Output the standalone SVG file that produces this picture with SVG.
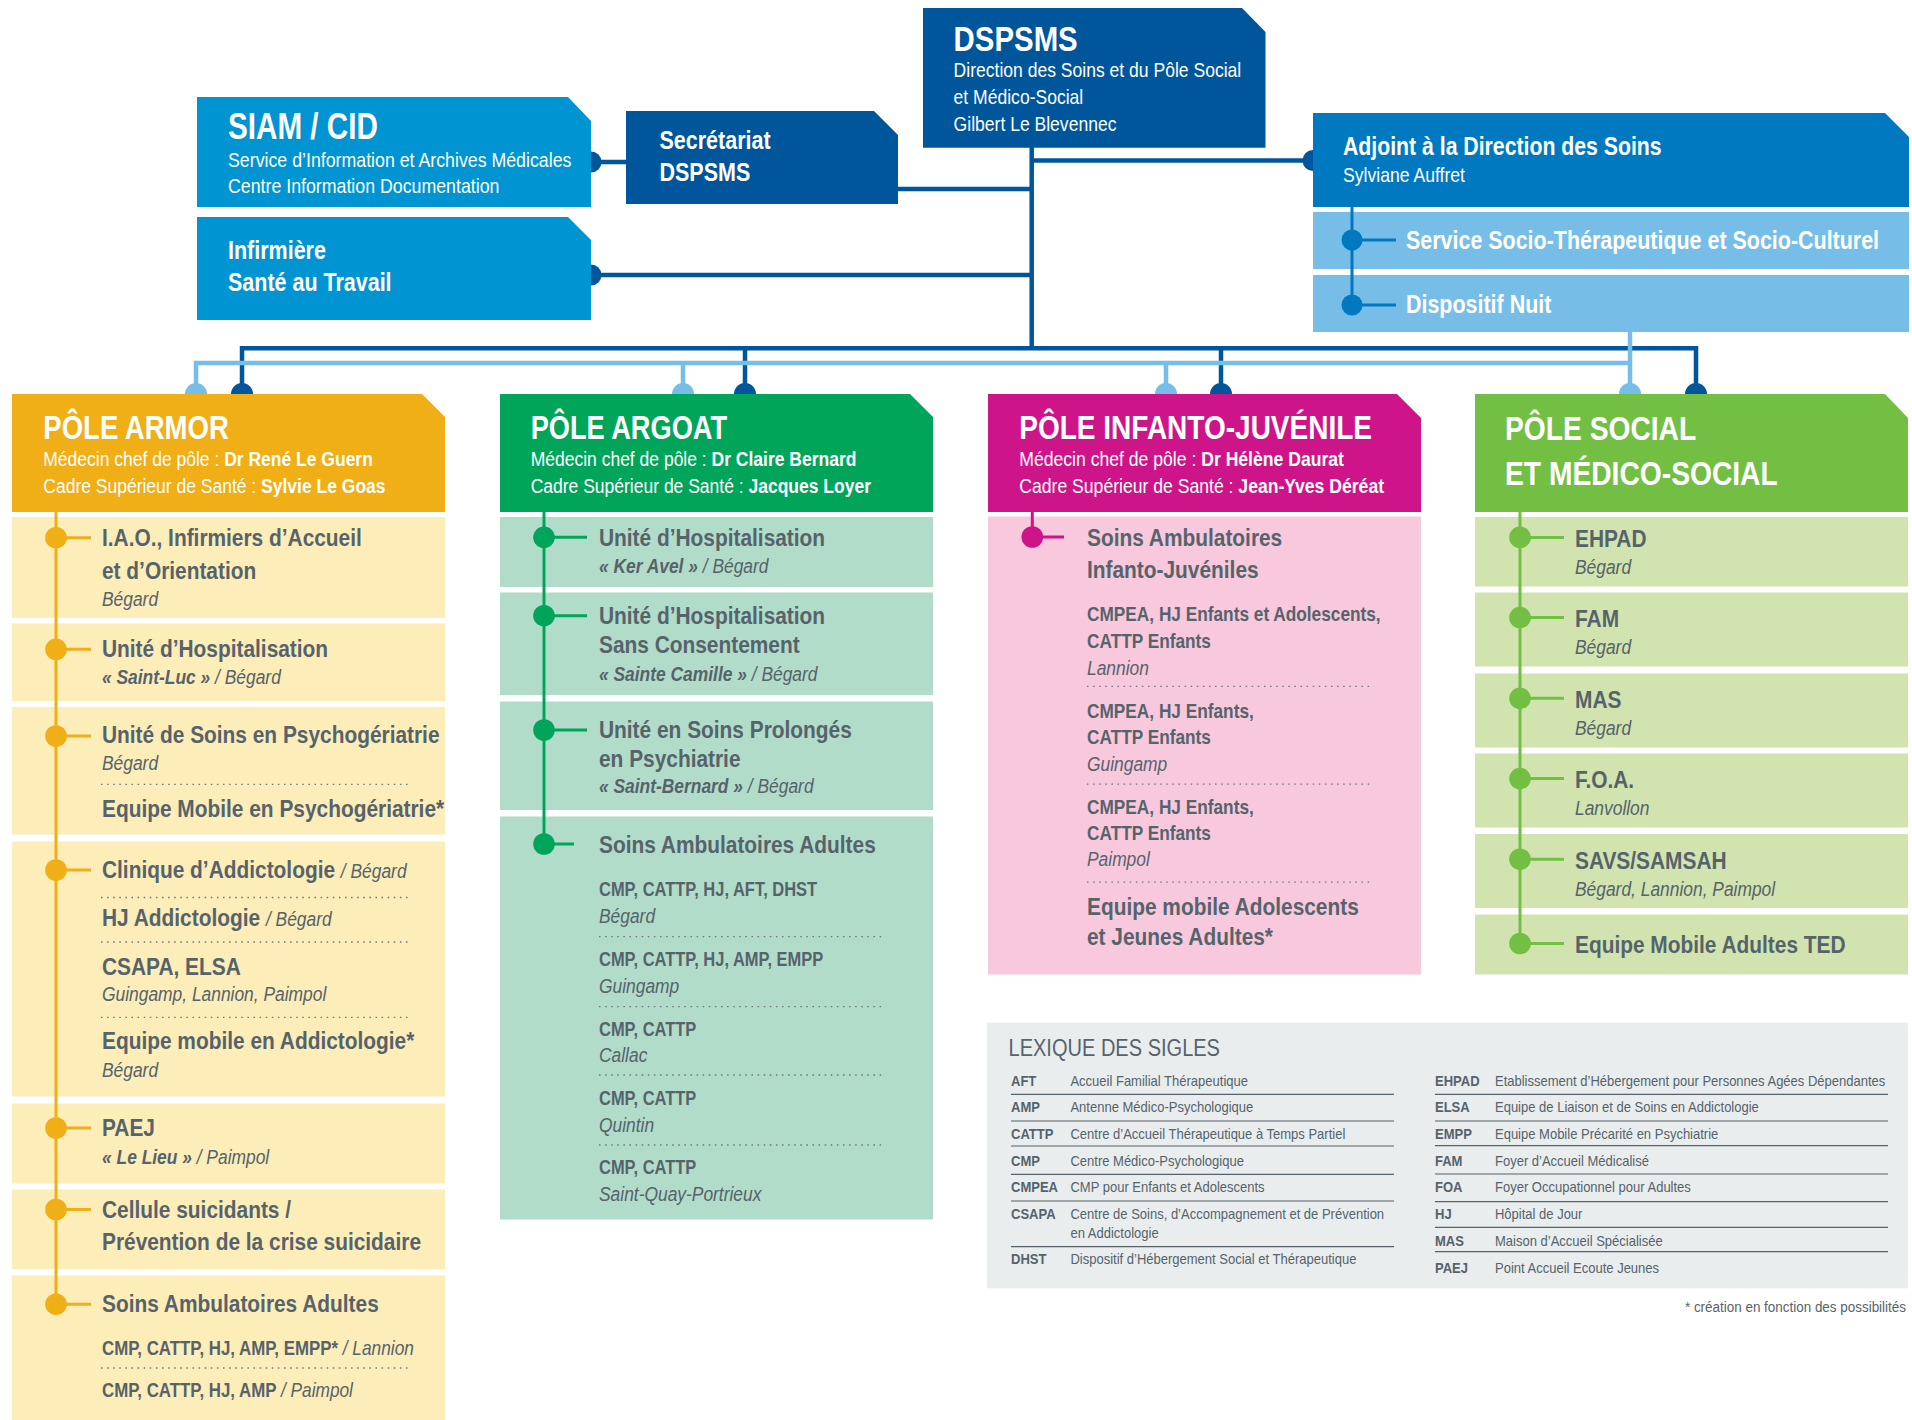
<svg xmlns="http://www.w3.org/2000/svg" width="1912" height="1420" viewBox="0 0 1912 1420">
<style>
text{font-family:'Liberation Sans',Arial,sans-serif}
.b{font-weight:700}
.i{font-style:italic}
.r{font-weight:400}
.w{fill:#fff}
.t{fill:#56636b}
.h1{font-size:34px;font-weight:700}
.h2{font-size:20px}
.h3{font-size:25px;font-weight:700}
.m{font-size:24px;font-weight:700}
.s{font-size:20px;font-style:italic;font-weight:400}
.c{font-size:19.5px;font-weight:700}
.sep{stroke:#6b777e;stroke-width:1.3;stroke-dasharray:1.5 4.6;fill:none}
.lx{font-size:14px;fill:#56636b}
.lxb{font-size:14px;fill:#56636b;font-weight:700}
.ls{stroke:#56636b;stroke-width:1.2}
.dk{stroke:#00569b;stroke-width:4.5;fill:none}
.lt{stroke:#76bde8;stroke-width:4.5;fill:none}
</style>

<g id="connectors">
  <path class="dk" d="M1031.7,147 V348.3"/>
  <path class="dk" d="M1031.7,160.5 H1312"/>
  <path class="dk" d="M898,189 H1031.7"/>
  <path class="dk" d="M591,275 H1031.7"/>
  <path class="dk" d="M591,162 H626"/>
  <path class="dk" d="M242,394 V348.3 H1696 V394"/>
  <path class="dk" d="M745,348.3 V394 M1221,348.3 V394"/>
  <path class="lt" d="M196,394 V363 H1630"/>
  <path class="lt" d="M1630,332 V394 M683,363 V394 M1166,363 V394"/>
  <circle cx="591" cy="162" r="10.5" fill="#00569b"/>
  <circle cx="591" cy="275" r="10.5" fill="#00569b"/>
  <circle cx="1313" cy="160.5" r="10.5" fill="#00569b"/>
  <circle cx="196" cy="394" r="11" fill="#76bde8"/>
  <circle cx="242" cy="394" r="11" fill="#00569b"/>
  <circle cx="683" cy="394" r="11" fill="#76bde8"/>
  <circle cx="745" cy="394" r="11" fill="#00569b"/>
  <circle cx="1166" cy="394" r="11" fill="#76bde8"/>
  <circle cx="1221" cy="394" r="11" fill="#00569b"/>
  <circle cx="1630" cy="394" r="11" fill="#76bde8"/>
  <circle cx="1696" cy="394" r="11" fill="#00569b"/>
</g>

<g id="dspsms">
  <path d="M923,8 H1242 L1265.5,32 V147.7 H923 Z" fill="#00569b"/>
  <text transform="translate(953.6 51) scale(.84 1)" class="w" style="font-size:35px;font-weight:700">DSPSMS</text>
  <g class="w h2" transform="translate(953.6 0) scale(.878 1)">
    <text y="77.3">Direction des Soins et du Pôle Social</text>
    <text y="104.3">et Médico-Social</text>
    <text y="131">Gilbert Le Blevennec</text>
  </g>
</g>

<g id="siam">
  <path d="M197,97 H568 L591,121 V207 H197 Z" fill="#0094d2"/>
  <text transform="translate(228 139.3) scale(.824 1)" class="w" style="font-size:36px;font-weight:700">SIAM / CID</text>
  <g class="w h2" transform="translate(228 0) scale(.888 1)">
    <text y="166.7">Service d’Information et Archives Médicales</text>
    <text y="192.7">Centre Information Documentation</text>
  </g>
</g>

<g id="secretariat">
  <path d="M626,111 H874 L898,135 V204 H626 Z" fill="#00569b"/>
  <g class="w h3" transform="translate(659.5 0) scale(.86 1)">
    <text y="149">Secrétariat</text>
    <text y="181">DSPSMS</text>
  </g>
</g>

<g id="infirmiere">
  <path d="M197,217 H568 L591,240 V320 H197 Z" fill="#0094d2"/>
  <g class="w h3" transform="translate(228 0) scale(.86 1)">
    <text y="259">Infirmière</text>
    <text y="291">Santé au Travail</text>
  </g>
</g>

<g id="adjoint">
  <path d="M1313,113 H1885 L1909,137 V207 H1313 Z" fill="#0079c1"/>
  <text transform="translate(1343 155) scale(.85 1)" class="w h3">Adjoint à la Direction des Soins</text>
  <text transform="translate(1343 182) scale(.88 1)" class="w h2">Sylviane Auffret</text>
  <rect x="1313" y="212" width="596" height="57" fill="#76bde8"/>
  <rect x="1313" y="275" width="596" height="57" fill="#76bde8"/>
  <g class="w b" style="font-size:26px" transform="translate(1406 0) scale(.825 1)">
    <text y="249.3">Service Socio-Thérapeutique et Socio-Culturel</text>
    <text y="313.3">Dispositif Nuit</text>
  </g>
  <path d="M1352,207 V305 M1352,240 H1396 M1352,305 H1396" stroke="#0079c1" stroke-width="3" fill="none"/>
  <circle cx="1352" cy="240" r="10.5" fill="#0079c1"/>
  <circle cx="1352" cy="305" r="10.5" fill="#0079c1"/>
</g>

<g id="pole-armor">
  <path d="M12,394 H422 L445,417 V512 H12 Z" fill="#f0ae17"/>
  <text transform="translate(43.3 439.3) scale(.81 1)" class="w h1">PÔLE ARMOR</text>
  <g class="w h2" transform="translate(43.3 0) scale(.875 1)">
    <text y="466">Médecin chef de pôle : <tspan class="b">Dr René Le Guern</tspan></text>
    <text y="492.7">Cadre Supérieur de Santé : <tspan class="b">Sylvie Le Goas</tspan></text>
  </g>
  <g fill="#fdedb9">
    <rect x="12" y="517" width="433" height="101"/>
    <rect x="12" y="623.5" width="433" height="77.5"/>
    <rect x="12" y="707" width="433" height="127.5"/>
    <rect x="12" y="841.5" width="433" height="255"/>
    <rect x="12" y="1103.5" width="433" height="80"/>
    <rect x="12" y="1189.5" width="433" height="79.5"/>
    <rect x="12" y="1275.5" width="433" height="144.5"/>
  </g>
  <path d="M56,512 V1304.2 M56,537.7 H91 M56,649.3 H91 M56,736 H91 M56,870 H91 M56,1128 H91 M56,1209.5 H91 M56,1304.2 H91" stroke="#f0ae17" stroke-width="3" fill="none"/>
  <g fill="#f0ae17">
    <circle cx="56" cy="537.7" r="10.8"/><circle cx="56" cy="649.3" r="10.8"/><circle cx="56" cy="736" r="10.8"/><circle cx="56" cy="870" r="10.8"/><circle cx="56" cy="1128" r="10.8"/><circle cx="56" cy="1209.5" r="10.8"/><circle cx="56" cy="1304.2" r="10.8"/>
  </g>
  <path class="sep" d="M101,784.3 H410 M101,897.5 H410 M101,942 H410 M101,1017.4 H410 M101,1368 H410"/>
  <g class="t" transform="translate(102 0) scale(.87 1)">
    <text y="546" class="m">I.A.O., Infirmiers d’Accueil</text>
    <text y="579" class="m">et d’Orientation</text>
    <text y="606" class="s">Bégard</text>
    <text y="657.3" class="m">Unité d’Hospitalisation</text>
    <text y="684.3" class="s"><tspan class="b">« Saint-Luc »</tspan> / Bégard</text>
    <text y="743.3" class="m">Unité de Soins en Psychogériatrie</text>
    <text y="770" class="s">Bégard</text>
    <text y="816.7" class="m">Equipe Mobile en Psychogériatrie*</text>
    <text y="878.3" class="m">Clinique d’Addictologie <tspan class="s">/ Bégard</tspan></text>
    <text y="926.5" class="m">HJ Addictologie <tspan class="s">/ Bégard</tspan></text>
    <text y="974.7" class="m">CSAPA, ELSA</text>
    <text y="1001.2" class="s">Guingamp, Lannion, Paimpol</text>
    <text y="1049.4" class="m">Equipe mobile en Addictologie*</text>
    <text y="1077" class="s">Bégard</text>
    <text y="1136.5" class="m">PAEJ</text>
    <text y="1164.4" class="s"><tspan class="b">« Le Lieu »</tspan> / Paimpol</text>
    <text y="1218.5" class="m">Cellule suicidants /</text>
    <text y="1250.2" class="m">Prévention de la crise suicidaire</text>
    <text y="1312.2" class="m">Soins Ambulatoires Adultes</text>
  </g>
  <g class="t" transform="translate(102 0) scale(.865 1)">
    <text y="1355.2" class="c">CMP, CATTP, HJ, AMP, EMPP* <tspan class="s">/ Lannion</tspan></text>
    <text y="1397.2" class="c">CMP, CATTP, HJ, AMP <tspan class="s">/ Paimpol</tspan></text>
  </g>
</g>

<g id="pole-argoat">
  <path d="M500,394 H910 L933,417 V512 H500 Z" fill="#00a55a"/>
  <text transform="translate(530.7 439.3) scale(.8 1)" class="w h1">PÔLE ARGOAT</text>
  <g class="w h2" transform="translate(530.7 0) scale(.875 1)">
    <text y="466">Médecin chef de pôle : <tspan class="b">Dr Claire Bernard</tspan></text>
    <text y="492.7">Cadre Supérieur de Santé : <tspan class="b">Jacques Loyer</tspan></text>
  </g>
  <g fill="#b1dcc9">
    <rect x="500" y="517" width="433" height="70"/>
    <rect x="500" y="592.5" width="433" height="102.5"/>
    <rect x="500" y="701.5" width="433" height="108.5"/>
    <rect x="500" y="816.5" width="433" height="403"/>
  </g>
  <path d="M544,512 V844 M544,537.3 H587 M544,615.7 H587 M544,730 H587 M544,844 H574" stroke="#00a55a" stroke-width="3" fill="none"/>
  <g fill="#00a55a">
    <circle cx="544" cy="537.3" r="10.8"/><circle cx="544" cy="615.7" r="10.8"/><circle cx="544" cy="730" r="10.8"/><circle cx="544" cy="844" r="10.8"/>
  </g>
  <path class="sep" d="M599,936.7 H882 M599,1006.7 H882 M599,1075 H882 M599,1145 H882"/>
  <g class="t" transform="translate(599 0) scale(.87 1)">
    <text y="546" class="m">Unité d’Hospitalisation</text>
    <text y="573.3" class="s"><tspan class="b">« Ker Avel »</tspan> / Bégard</text>
    <text y="624" class="m">Unité d’Hospitalisation</text>
    <text y="653.3" class="m">Sans Consentement</text>
    <text y="680.7" class="s"><tspan class="b">« Sainte Camille »</tspan> / Bégard</text>
    <text y="737.7" class="m">Unité en Soins Prolongés</text>
    <text y="767.3" class="m">en Psychiatrie</text>
    <text y="793.3" class="s"><tspan class="b">« Saint-Bernard »</tspan> / Bégard</text>
    <text y="852.7" class="m">Soins Ambulatoires Adultes</text>
    <text y="923.3" class="s">Bégard</text>
    <text y="992.7" class="s">Guingamp</text>
    <text y="1061.7" class="s">Callac</text>
    <text y="1131.7" class="s">Quintin</text>
    <text y="1200.7" class="s">Saint-Quay-Portrieux</text>
  </g>
  <g class="t c" transform="translate(599 0) scale(.845 1)">
    <text y="896">CMP, CATTP, HJ, AFT, DHST</text>
    <text y="966">CMP, CATTP, HJ, AMP, EMPP</text>
    <text y="1035.7">CMP, CATTP</text>
    <text y="1105">CMP, CATTP</text>
    <text y="1174.3">CMP, CATTP</text>
  </g>
</g>

<g id="pole-infanto">
  <path d="M988,394 H1397 L1421,418 V512 H988 Z" fill="#cd1589"/>
  <text transform="translate(1019.3 439.3) scale(.824 1)" class="w h1">PÔLE INFANTO-JUVÉNILE</text>
  <g class="w h2" transform="translate(1019.3 0) scale(.88 1)">
    <text y="466">Médecin chef de pôle : <tspan class="b">Dr Hélène Daurat</tspan></text>
    <text y="492.7">Cadre Supérieur de Santé : <tspan class="b">Jean-Yves Déréat</tspan></text>
  </g>
  <rect x="988" y="516.5" width="433" height="458" fill="#f8c9dd"/>
  <path d="M1032.3,512 V537 H1064" stroke="#cd1589" stroke-width="3" fill="none"/>
  <circle cx="1032.3" cy="537" r="10.8" fill="#cd1589"/>
  <path class="sep" d="M1087,686.4 H1370 M1087,784.1 H1370 M1087,882.2 H1370"/>
  <g class="t" transform="translate(1087 0) scale(.87 1)">
    <text y="546" class="m">Soins Ambulatoires</text>
    <text y="577.7" class="m">Infanto-Juvéniles</text>
    <text y="674.6" class="s">Lannion</text>
    <text y="770.7" class="s">Guingamp</text>
    <text y="866.4" class="s">Paimpol</text>
    <text y="914.6" class="m">Equipe mobile Adolescents</text>
    <text y="945.4" class="m">et Jeunes Adultes*</text>
  </g>
  <g class="t c" transform="translate(1087 0) scale(.885 1)">
    <text y="621.2">CMPEA, HJ Enfants et Adolescents,</text>
    <text y="648">CATTP Enfants</text>
    <text y="718">CMPEA, HJ Enfants,</text>
    <text y="743.8">CATTP Enfants</text>
    <text y="814.2">CMPEA, HJ Enfants,</text>
    <text y="839.9">CATTP Enfants</text>
  </g>
</g>

<g id="pole-social">
  <path d="M1475,394 H1885 L1908,418 V512 H1475 Z" fill="#72bf44"/>
  <g class="w h1" transform="translate(1505 0) scale(.83 1)">
    <text y="440">PÔLE SOCIAL</text>
    <text y="484.8">ET MÉDICO-SOCIAL</text>
  </g>
  <g fill="#d1e4b0">
    <rect x="1475" y="517" width="433" height="69.5"/>
    <rect x="1475" y="592.5" width="433" height="74"/>
    <rect x="1475" y="673.5" width="433" height="74"/>
    <rect x="1475" y="753.5" width="433" height="74"/>
    <rect x="1475" y="834" width="433" height="74"/>
    <rect x="1475" y="914.5" width="433" height="60"/>
  </g>
  <path d="M1520,512 V943.5 M1520,537.4 H1564 M1520,617.6 H1564 M1520,698.3 H1564 M1520,778.6 H1564 M1520,859.2 H1564 M1520,943.5 H1564" stroke="#72bf44" stroke-width="3" fill="none"/>
  <g fill="#72bf44">
    <circle cx="1520" cy="537.4" r="10.8"/><circle cx="1520" cy="617.6" r="10.8"/><circle cx="1520" cy="698.3" r="10.8"/><circle cx="1520" cy="778.6" r="10.8"/><circle cx="1520" cy="859.2" r="10.8"/><circle cx="1520" cy="943.5" r="10.8"/>
  </g>
  <g class="t" transform="translate(1575 0) scale(.87 1)">
    <text y="546.9" class="m">EHPAD</text>
    <text y="573.8" class="s">Bégard</text>
    <text y="627.1" class="m">FAM</text>
    <text y="653.6" class="s">Bégard</text>
    <text y="708.2" class="m">MAS</text>
    <text y="735.1" class="s">Bégard</text>
    <text y="788" class="m">F.O.A.</text>
    <text y="815" class="s">Lanvollon</text>
    <text y="869.1" class="m">SAVS/SAMSAH</text>
    <text y="896" class="s">Bégard, Lannion, Paimpol</text>
    <text y="952.6" class="m">Equipe Mobile Adultes TED</text>
  </g>
</g>

<g id="lexique">
  <rect x="987" y="1022.7" width="921" height="265.6" fill="#e9eded"/>
  <text transform="translate(1008.5 1056) scale(.86 1)" style="font-size:23.3px;fill:#56636b">LEXIQUE DES SIGLES</text>
  <path class="ls" d="M1011,1094.3 H1394 M1011,1121 H1394 M1011,1146 H1394 M1011,1174.3 H1394 M1011,1201 H1394 M1011,1246.7 H1394"/>
  <path class="ls" d="M1435,1094.3 H1888 M1435,1121 H1888 M1435,1145.7 H1888 M1435,1174 H1888 M1435,1201.7 H1888 M1435,1227.3 H1888 M1435,1251.7 H1888"/>
  <g transform="translate(1011 0) scale(.93 1)">
    <text y="1086" class="lxb">AFT</text><text x="63.9" y="1086" class="lx">Accueil Familial Thérapeutique</text>
    <text y="1111.7" class="lxb">AMP</text><text x="63.9" y="1111.7" class="lx">Antenne Médico-Psychologique</text>
    <text y="1139.3" class="lxb">CATTP</text><text x="63.9" y="1139.3" class="lx">Centre d’Accueil Thérapeutique à Temps Partiel</text>
    <text y="1166" class="lxb">CMP</text><text x="63.9" y="1166" class="lx">Centre Médico-Psychologique</text>
    <text y="1192" class="lxb">CMPEA</text><text x="63.9" y="1192" class="lx">CMP pour Enfants et Adolescents</text>
    <text y="1219.3" class="lxb">CSAPA</text><text x="63.9" y="1219.3" class="lx">Centre de Soins, d’Accompagnement et de Prévention</text>
    <text x="63.9" y="1238.3" class="lx">en Addictologie</text>
    <text y="1264" class="lxb">DHST</text><text x="63.9" y="1264" class="lx">Dispositif d’Hébergement Social et Thérapeutique</text>
  </g>
  <g transform="translate(1435 0) scale(.93 1)">
    <text y="1086" class="lxb">EHPAD</text><text x="64.5" y="1086" class="lx">Etablissement d’Hébergement pour Personnes Agées Dépendantes</text>
    <text y="1111.7" class="lxb">ELSA</text><text x="64.5" y="1111.7" class="lx">Equipe de Liaison et de Soins en Addictologie</text>
    <text y="1139.3" class="lxb">EMPP</text><text x="64.5" y="1139.3" class="lx">Equipe Mobile Précarité en Psychiatrie</text>
    <text y="1166" class="lxb">FAM</text><text x="64.5" y="1166" class="lx">Foyer d’Accueil Médicalisé</text>
    <text y="1192" class="lxb">FOA</text><text x="64.5" y="1192" class="lx">Foyer Occupationnel pour Adultes</text>
    <text y="1219.3" class="lxb">HJ</text><text x="64.5" y="1219.3" class="lx">Hôpital de Jour</text>
    <text y="1246" class="lxb">MAS</text><text x="64.5" y="1246" class="lx">Maison d’Accueil Spécialisée</text>
    <text y="1272.7" class="lxb">PAEJ</text><text x="64.5" y="1272.7" class="lx">Point Accueil Ecoute Jeunes</text>
  </g>
</g>

<text transform="translate(1906 1311.7) scale(.96 1)" text-anchor="end" class="lx">* création en fonction des possibilités</text>
</svg>
